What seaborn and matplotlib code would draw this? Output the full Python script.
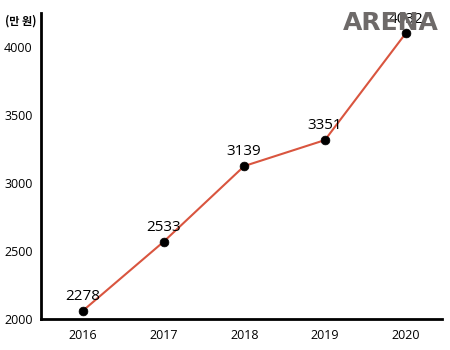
import matplotlib
matplotlib.use("Agg")
import matplotlib.pyplot as plt
import seaborn as sns
import pandas as pd

years = ["2016", "2017", "2018", "2019", "2020"]
values = [2061, 2568, 3125, 3316, 4100]
value_labels = ["2278", "2533", "3139", "3351", "4032"]
y_ticks = [2000, 2500, 3000, 3500, 4000]

sns.set_style("white")
plt.rcParams['font.family'] = ['Open Sans', 'Noto Sans CJK KR', 'DejaVu Sans']

df = pd.DataFrame({"year": years, "value": values})

fig = plt.figure(figsize=(4.5, 3.5), dpi=100)
ax = fig.add_axes([0.091, 0.0886, 0.891, 0.874])

# watermark (behind)
fig.text(343 / 450, 1 - 23 / 350, "ARENA", fontsize=18, fontweight="bold",
         family=["DejaVu Sans"], color="#6e6a69", ha="left", va="center", zorder=0)

sns.lineplot(data=df, x="year", y="value", ax=ax, color="#d9553f", linewidth=1.5,
             sort=False, zorder=2)
sns.scatterplot(data=df, x="year", y="value", ax=ax, color="black", s=40,
                edgecolor="black", zorder=3)

for i, (v, lab) in enumerate(zip(values, value_labels)):
    ax.annotate(lab, (i, v), xytext=(0, 5), textcoords="offset points",
                ha="center", va="bottom", fontsize=11, color="black", zorder=4)

ax.set_xlim(-0.52, 4.45)
ax.set_ylim(2000, 4250)
ax.set_yticks(y_ticks)
ax.set_yticklabels([str(t) for t in y_ticks])
ax.tick_params(axis="both", length=0, labelsize=9, colors="black")
ax.tick_params(axis="y", pad=6)
ax.tick_params(axis="x", pad=7)
ax.set_xlabel("")
ax.set_ylabel("")
ax.patch.set_alpha(0)
for s in ["top", "right"]:
    ax.spines[s].set_visible(False)
for s in ["left", "bottom"]:
    ax.spines[s].set_color("black")
    ax.spines[s].set_linewidth(2)

fig.text(0.012, 0.94, "(만 원)", fontsize=8, fontweight="bold",
         family=['Noto Sans CJK KR', 'DejaVu Sans'], color="black", ha="left", va="center")

fig.savefig("out.png", dpi=100)
